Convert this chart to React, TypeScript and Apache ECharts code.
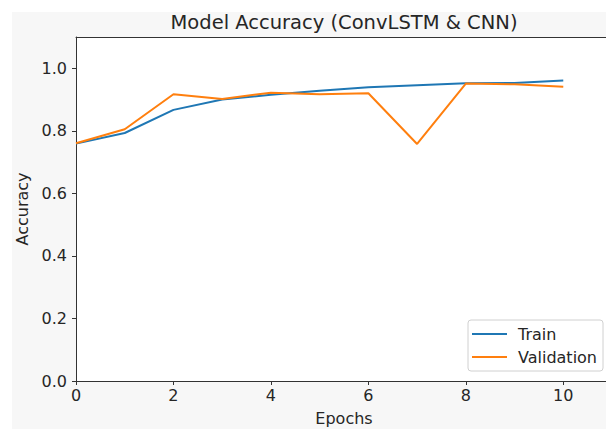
import React, { useEffect, useRef } from "react";
import * as echarts from "echarts";

const epochs = [0, 1, 2, 3, 4, 5, 6, 7, 8, 9, 10];
const trainAcc = [0.759, 0.793, 0.867, 0.9, 0.915, 0.928, 0.939, 0.946, 0.952, 0.953, 0.961];
const valAcc = [0.76, 0.805, 0.917, 0.902, 0.922, 0.917, 0.92, 0.758, 0.951, 0.949, 0.941];
const seriesNames = ["Train", "Validation"];
const titleText = "Model Accuracy (ConvLSTM & CNN)";
const xName = "Epochs";
const yName = "Accuracy";

const FONT = "DejaVu Sans";
const TXT = "#262626";
const SPINE = "#333333";

export default function App() {
  const ref = useRef<HTMLDivElement>(null);
  useEffect(() => {
    if (!ref.current) return;
    const chart = echarts.init(ref.current, undefined, { renderer: "svg" });
    chart.setOption({
      animation: false,
      backgroundColor: "#ffffff",
      textStyle: { fontFamily: FONT },
      graphic: [
        {
          type: "rect",
          z: -100,
          silent: true,
          shape: { x: 12, y: 12, width: 600, height: 420 },
          style: { fill: "#f7f7f7" },
        },
        {
          type: "text",
          z: 10,
          silent: true,
          x: 344,
          y: 22,
          style: {
            text: titleText,
            fontFamily: FONT,
            fontSize: 19.5,
            fill: TXT,
            align: "center",
            verticalAlign: "middle",
          },
        },
      ],
      grid: {
        left: 76,
        top: 37,
        width: 536,
        height: 344,
        outerBoundsMode: "none",
        containLabel: false,
        show: true,
        backgroundColor: "#ffffff",
        borderWidth: 0,
      },
      legend: {
        data: seriesNames,
        orient: "vertical",
        left: 468,
        top: 320,
        padding: [6, 6, 6, 4],
        itemGap: 7,
        itemWidth: 35,
        itemHeight: 2,
        icon: "rect",
        backgroundColor: "#ffffff",
        borderColor: "#d0d0d0",
        borderWidth: 1,
        borderRadius: 3,
        textStyle: { fontFamily: FONT, fontSize: 16, color: TXT, padding: [0, 0, 0, 6] },
      },
      xAxis: [
        {
          type: "value",
          min: 0,
          max: 11,
          interval: 2,
          name: xName,
          nameLocation: "middle",
          nameGap: 29,
          nameTextStyle: { fontFamily: FONT, fontSize: 16, color: TXT },
          axisLine: { show: true, lineStyle: { color: SPINE, width: 1 } },
          axisTick: { show: true, inside: false, length: 4, lineStyle: { color: SPINE } },
          axisLabel: {
            fontFamily: FONT,
            fontSize: 16,
            color: TXT,
            margin: 6,
            showMaxLabel: false,
            formatter: (v: number) => (v > 10.5 ? "" : String(v)),
          },
          splitLine: { show: false },
        },
        {
          type: "value",
          position: "top",
          min: 0,
          max: 11,
          interval: 2,
          axisLine: { show: true, lineStyle: { color: SPINE, width: 1 } },
          axisTick: { show: false },
          axisLabel: { show: false },
          splitLine: { show: false },
        },
      ],
      yAxis: {
        type: "value",
        min: 0,
        max: 1.1,
        interval: 0.2,
        name: yName,
        nameLocation: "middle",
        nameGap: 46,
        nameTextStyle: { fontFamily: FONT, fontSize: 16, color: TXT },
        axisLine: { show: true, lineStyle: { color: SPINE, width: 1 } },
        axisTick: { show: true, inside: false, length: 4, lineStyle: { color: SPINE } },
        axisLabel: {
          fontFamily: FONT,
          fontSize: 16,
          color: TXT,
          margin: 9,
          showMaxLabel: false,
          formatter: (v: number) => (v > 1.05 ? "" : v.toFixed(1)),
        },
        splitLine: { show: false },
      },
      series: [
        {
          name: seriesNames[0],
          type: "line",
          xAxisIndex: 0,
          data: epochs.map((e, i) => [e, trainAcc[i]]),
          symbol: "none",
          color: "#1f77b4",
          lineStyle: { width: 2, color: "#1f77b4" },
        },
        {
          name: seriesNames[1],
          type: "line",
          xAxisIndex: 0,
          data: epochs.map((e, i) => [e, valAcc[i]]),
          symbol: "none",
          color: "#ff7f0e",
          lineStyle: { width: 2, color: "#ff7f0e" },
        },
      ],
    });
    return () => chart.dispose();
  }, []);
  return (
    <div
      ref={ref}
      style={{ position: "fixed", left: 0, top: 0, width: 606, height: 429 }}
    />
  );
}
